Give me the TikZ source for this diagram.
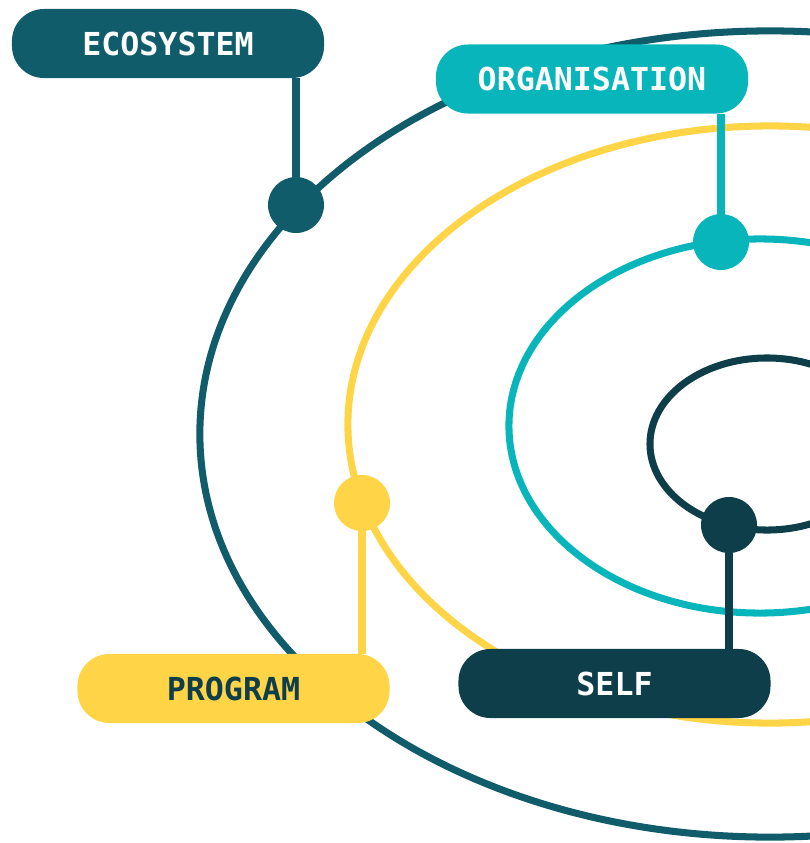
\documentclass[tikz,border=0pt]{standalone}
\usepackage{fontspec}
\setmonofont{DejaVu Sans Mono}

\definecolor{ecoteal}{HTML}{105C6A}
\definecolor{orgteal}{HTML}{08B5BA}
\definecolor{progyellow}{HTML}{FFD447}
\definecolor{selfnavy}{HTML}{0E3E4A}

\tikzset{
  labelbox/.style={rounded corners=0.8cm, minimum width=7.8cm, minimum height=1.725cm,
    inner sep=0pt, font=\ttfamily\bfseries\fontsize{22.5}{26}\selectfont},
  hub/.style={circle, inner sep=0pt, minimum size=1.4cm},
  ring/.style={line width=5pt},
  link/.style={line width=5pt}
}

\begin{document}
\begin{tikzpicture}[x=0.025cm, y=-0.025cm]
      \useasboundingbox (0,0) rectangle (810,843);
      \clip (0,0) rectangle (810,843);

      % Define the four rings, from the outside in
      \def\ringEco{(770,434) ellipse [x radius=14.25cm, y radius=10.075cm]}
      \def\ringProg{(770,424.5) ellipse [x radius=10.55cm, y radius=7.4625cm]}
      \def\ringOrg{(760,426) ellipse [x radius=6.275cm, y radius=4.675cm]}
      \def\ringSelf{(767,444) ellipse [x radius=2.925cm, y radius=2.15cm]}

      % Outline the rings
      \draw[ring, ecoteal] \ringEco;
      \draw[ring, progyellow] \ringProg;
      \draw[ring, orgteal] \ringOrg;
      \draw[ring, selfnavy] \ringSelf;

      % Hubs sitting on the rings
      \node[hub, fill=ecoteal] (ecohub) at (296,205) {};
      \node[hub, fill=orgteal] (orghub) at (721,242) {};
      \node[hub, fill=progyellow] (proghub) at (362,503) {};
      \node[hub, fill=selfnavy] (selfhub) at (729,525) {};

      % Labels
      \node[labelbox, fill=ecoteal, text=white] (ecobox) at (168,43.5) {ECOSYSTEM};
      \node[labelbox, fill=orgteal, text=white] (orgbox) at (592,79) {ORGANISATION};
      \node[labelbox, fill=progyellow, text=selfnavy] (progbox) at (233.5,688.5) {PROGRAM};
      \node[labelbox, fill=selfnavy, text=white] (selfbox) at (614.5,683.5) {SELF};

      % Stems from the labels down (or up) to the hubs
      \draw[link, ecoteal] (ecohub.center) -- (ecohub.center |- ecobox.south);
      \draw[link, orgteal] (orghub.center) -- (orghub.center |- orgbox.south);
      \draw[link, progyellow] (proghub.center) -- (proghub.center |- progbox.north);
      \draw[link, selfnavy] (selfhub.center) -- (selfhub.center |- selfbox.north);
\end{tikzpicture}
\end{document}
